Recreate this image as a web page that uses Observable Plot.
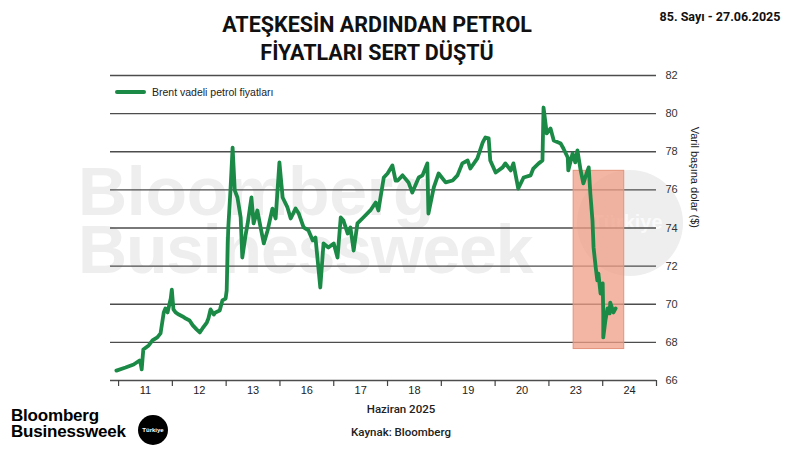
<!DOCTYPE html>
<html>
<head>
<meta charset="utf-8">
<script src="https://cdn.jsdelivr.net/npm/d3@7"></script>
<script src="https://cdn.jsdelivr.net/npm/@observablehq/plot@0.6"></script>
<style>
  body { margin: 0; background: #fff; }
  #wrap { position: relative; width: 800px; height: 450px; overflow: hidden; background: #fff; font-family: "Liberation Sans", Arial, sans-serif; }
  .abs { position: absolute; white-space: nowrap; }
  #title { left: 0; width: 754px; top: 11px; text-align: center; font-family: Roboto, sans-serif; font-weight: 700; font-size: 21.5px; line-height: 28px; color: #111; }
  #issue { left: 650px; width: 140px; top: 9px; text-align: center; font-family: Roboto, sans-serif; font-weight: 700; font-size: 12.5px; color: #111; }
  #wm1, #wm2 { left: 78px; font-family: "Liberation Sans", Arial, sans-serif; font-weight: 700; font-size: 68px; color: #eeeeee; line-height: 56px; }
  #wm1 { top: 163px; letter-spacing: -0.3px; }
  #wm2 { top: 221px; letter-spacing: -1.2px; }
  #wmc { left: 577px; top: 170px; width: 106px; height: 106px; border-radius: 50%; background: #eeeeee; }
  #wmct { left: 577px; width: 100px; top: 211px; text-align: center; font-family: "Liberation Sans", Arial, sans-serif; font-weight: 700; font-size: 20px; color: #fafafa; }
  #plotbox { position: absolute; left: 0; top: 0; }
  #legend { left: 115px; top: 86px; font-size: 10.5px; color: #222; display: flex; align-items: center; }
  #legend .sw { display: inline-block; width: 31px; height: 4px; border-radius: 2px; margin-right: 6px; }
  #month { left: 351px; width: 100px; top: 402px; text-align: center; font-family: Roboto, sans-serif; font-weight: 500; font-size: 11.5px; color: #222; }
  #source { left: 331px; width: 140px; top: 425px; text-align: center; font-family: Roboto, sans-serif; font-weight: 500; font-size: 11.5px; color: #222; }
  #logo { left: 11px; top: 408px; font-family: "Liberation Sans", Arial, sans-serif; font-weight: 700; font-size: 17px; line-height: 16px; color: #000; letter-spacing: -0.2px; }
  #badge { left: 138px; top: 415px; width: 30px; height: 30px; border-radius: 50%; background: #000; color: #fff; font-size: 6px; font-weight: 700; text-align: center; line-height: 30px; }
</style>
</head>
<body>
<div id="wrap">
  <div class="abs" id="wm1">Bloomberg</div>
  <div class="abs" id="wm2">Businessweek</div>
  <div class="abs" id="wmc"></div>
  <div class="abs" id="wmct">Türkiye</div>
  <div id="plotbox"></div>
  <div class="abs" id="title">ATEŞKESİN ARDINDAN PETROL<br>FİYATLARI SERT DÜŞTÜ</div>
  <div class="abs" id="issue">85. Sayı - 27.06.2025</div>
  <div class="abs" id="legend"><span class="sw"></span><span id="legtext"></span></div>
  <div class="abs" id="month">Haziran 2025</div>
  <div class="abs" id="source">Kaynak: Bloomberg</div>
  <div class="abs" id="logo">Bloomberg<br>Businessweek</div>
  <div class="abs" id="badge">Türkiye</div>
</div>
<script>
// Trading days (category labels) in June 2025
const days = ["11", "12", "13", "16", "17", "18", "19", "20", "23", "24"];
// Position along the trading-day axis (0 = start of 11 June, 1 = start of 12 June, ...)
const pos = [
  -0.04, 0.13, 0.28, 0.39, 0.41, 0.43, 0.46, 0.56, 0.63, 0.72, 0.78, 0.84, 0.87, 0.91, 0.97, 0.99,
  1.02, 1.06, 1.12, 1.19, 1.25, 1.32, 1.38, 1.45, 1.51, 1.56, 1.64, 1.67, 1.71, 1.77, 1.80, 1.88, 1.93, 1.99,
  2.01, 2.03, 2.04, 2.08, 2.12, 2.16, 2.21, 2.27, 2.30, 2.36, 2.40, 2.47, 2.51, 2.58, 2.64, 2.70, 2.77, 2.86, 2.92, 2.99,
  3.05, 3.14, 3.20, 3.29, 3.35, 3.44, 3.53, 3.61, 3.66, 3.72, 3.75, 3.81, 3.90,
  4.00, 4.07, 4.13, 4.18, 4.26, 4.31, 4.37, 4.44, 4.55, 4.68, 4.78, 4.83, 4.93,
  5.00, 5.09, 5.15, 5.19, 5.28, 5.39, 5.46, 5.58, 5.65, 5.74, 5.76, 5.86, 5.95,
  6.08, 6.21, 6.30, 6.39, 6.49, 6.54, 6.67, 6.77, 6.82, 6.88, 6.91,
  7.01, 7.14, 7.19, 7.29, 7.34, 7.43, 7.53, 7.66, 7.71, 7.81, 7.88, 7.90, 7.96,
  8.03, 8.09, 8.22, 8.27, 8.35, 8.36, 8.44, 8.49, 8.53, 8.59, 8.64, 8.70, 8.74, 8.77, 8.81, 8.83, 8.87, 8.90, 8.92, 8.96,
  9.00, 9.01, 9.01, 9.05, 9.09, 9.13, 9.14, 9.20, 9.24
];
// Brent futures price, USD per barrel
const price = [
  66.52, 66.68, 66.84, 67.05, 66.89, 66.58, 67.63, 67.84, 68.10, 68.26, 68.47, 69.57, 69.78, 69.57, 70.30, 70.77,
  69.73, 69.57, 69.46, 69.36, 69.25, 69.15, 68.89, 68.68, 68.52, 68.73, 69.04, 69.25, 69.73, 69.46, 69.57, 69.67, 70.20, 70.30,
  70.72, 73.19, 74.03, 75.97, 78.22, 75.97, 75.60, 74.55, 72.45, 73.61, 74.24, 75.60, 74.24, 74.92, 74.03, 73.19, 73.87, 75.02, 74.50, 77.44,
  75.60, 75.08, 74.50, 75.02, 74.76, 74.03, 73.87, 73.35, 73.50, 71.77, 70.88, 73.19, 72.98,
  73.19, 72.45, 74.55, 74.39, 73.71, 74.03, 72.82, 74.24, 74.55, 74.92, 75.34, 74.92, 76.65,
  76.86, 77.28, 76.49, 76.49, 76.76, 76.39, 75.86, 76.65, 76.76, 77.39, 74.76, 76.13, 76.86,
  76.39, 76.49, 76.76, 77.39, 77.54, 77.12, 77.65, 78.49, 78.75, 78.70, 77.54,
  76.91, 77.18, 77.39, 77.02, 77.39, 76.07, 76.65, 76.76, 77.12, 77.39, 77.54, 80.32, 78.96,
  79.22, 78.59, 78.43, 78.17, 77.70, 77.02, 77.91, 77.44, 78.07, 77.02, 76.34, 76.86, 77.18, 75.81, 74.39, 72.98, 71.93, 71.25, 71.61, 70.56,
  71.09, 69.52, 68.26, 69.15, 69.78, 69.52, 70.09, 69.57, 69.78
];
const yTicks = [66, 68, 70, 72, 74, 76, 78, 80, 82];
const dayBounds = [0, 1, 2, 3, 4, 5, 6, 7, 8, 9, 10];
const dayCenters = [0.5, 1.5, 2.5, 3.5, 4.5, 5.5, 6.5, 7.5, 8.5, 9.5];
// Highlighted ceasefire period
const highlightX = [8.46, 9.40];
const highlightY = [67.65, 77.0];
const seriesName = "Brent vadeli petrol fiyatları";
const yLabel = "Varil başına dolar ($)";

const green = "#1c8a47";
const rows = pos.map((p, i) => ({pos: p, price: price[i]}));
const hl = [{x1: highlightX[0], x2: highlightX[1], y1: highlightY[0], y2: highlightY[1]}];

document.getElementById("legtext").textContent = seriesName;
document.querySelector("#legend .sw").style.background = green;

const chart = Plot.plot({
  width: 800,
  height: 450,
  marginLeft: 110,
  marginRight: 144,
  marginTop: 75,
  marginBottom: 70,
  style: {background: "transparent", fontFamily: "'Liberation Sans', Arial, sans-serif", fontSize: "11px", color: "#222"},
  x: {domain: [-0.15, 10]},
  y: {domain: [66, 82]},
  marks: [
    Plot.ruleY(yTicks, {stroke: "#4d4d4d", strokeWidth: 1.4}),
    Plot.rect(hl, {x1: "x1", x2: "x2", y1: "y1", y2: "y2", fill: "#ef9e85", fillOpacity: 0.75, stroke: "#e3937a", strokeWidth: 1}),
    Plot.line(rows, {x: "pos", y: "price", stroke: green, strokeWidth: 3.8, strokeLinejoin: "round", strokeLinecap: "round", curve: "linear"}),
    Plot.axisY({anchor: "right", ticks: yTicks, tickSize: 0, tickPadding: 9, label: null, fontSize: 11, fill: "#333"}),
    Plot.axisX({anchor: "bottom", ticks: dayBounds, tickSize: 6, tickFormat: () => "", label: null, stroke: "#444", strokeWidth: 1.2}),
    Plot.axisX({anchor: "bottom", ticks: dayCenters, tickSize: 0, tickPadding: 6, tickFormat: d => days[Math.floor(d)], label: null, fontSize: 11, fill: "#222"}),
    Plot.text([yLabel], {frameAnchor: "right", dx: 38, rotate: 90, text: d => d, fontSize: 11, fill: "#222"})
  ]
});
document.getElementById("plotbox").appendChild(chart);
</script>
</body>
</html>
